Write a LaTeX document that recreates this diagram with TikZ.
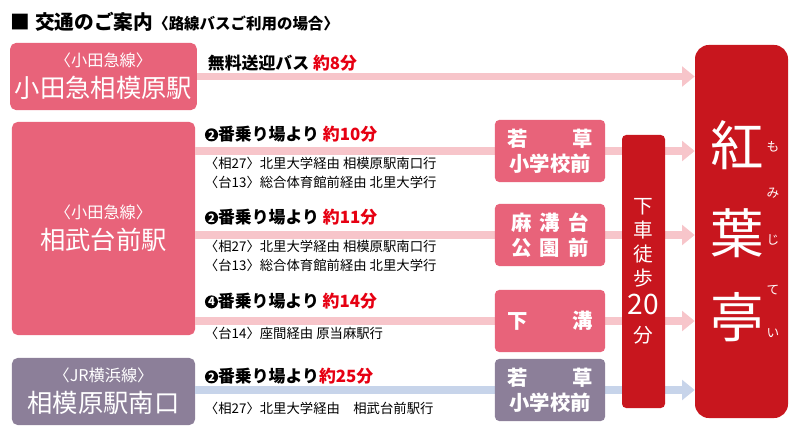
\documentclass[tikz,border=0pt]{standalone}
\usepackage{fontspec}
\setmainfont{Noto Sans CJK JP}
\usetikzlibrary{arrows.meta,positioning}
\definecolor{stpink}{HTML}{E8637A}
\definecolor{stgray}{HTML}{8C7F99}
\definecolor{momired}{HTML}{C8161E}
\definecolor{arrpink}{HTML}{F7C5CA}
\definecolor{arrblue}{HTML}{C7D4EA}
\definecolor{txtred}{HTML}{E60012}
\newcommand{\noc}[1]{\tikz[baseline=-0.6ex]\node[circle,fill=black,inner sep=0.6pt,text=white,font=\bfseries\fontsize{8}{8}\selectfont]{#1};}

\begin{document}
\begin{tikzpicture}[x=0.025cm,y=-0.025cm,
    station/.style={fill=stpink,rounded corners=4pt,text=white,align=center,
                    minimum width=4.575cm,minimum height=1.675cm,font=\fontsize{18}{22}\selectfont},
    stop/.style={fill=stpink,rounded corners=3pt,text=white,align=center,
                 minimum width=2.75cm,minimum height=1.55cm,font=\bfseries\fontsize{14.5}{18}\selectfont},
    route/.style={line width=5pt,arrpink,-{Triangle[length=9pt,width=14pt]}},
    plain/.style={line width=5pt,arrpink},
    head/.style={anchor=west,font=\bfseries\fontsize{12}{14}\selectfont},
    sub/.style={anchor=west,align=left,font=\fontsize{9.5}{13}\selectfont}]
\useasboundingbox (0,0) rectangle (800,446);

% title
\node[anchor=west,font=\bfseries\fontsize{14}{16}\selectfont] (title) at (6,22)
  {■ 交通のご案内{\fontsize{11}{12}\selectfont〈路線バスご利用の場合〉}};

% stations
\node[station] (odakyu) at (103.5,76.5)
  {{\fontsize{11.5}{14}\selectfont〈小田急線〉}\\小田急相模原駅};
\node[station,minimum height=5.325cm] (sobudai) at (103.5,228.5)
  {{\fontsize{11.5}{14}\selectfont〈小田急線〉}\\相武台前駅};
\node[station,fill=stgray] (sagami) at (103.5,391.5)
  {{\fontsize{11.5}{14}\selectfont〈JR横浜線〉}\\相模原駅南口};

% destination and walk
\node[fill=momired,rounded corners=10pt,minimum width=2.325cm,minimum height=9.325cm] (momiji) at (741.5,231.5) {};
\foreach \ch/\y in {紅/145,葉/233,亭/317}
  \node[text=white,font=\fontsize{38}{40}\selectfont] at (737,\y) {\ch};
\foreach \ch/\y in {も/147,み/193,じ/240,て/290,い/333}
  \node[text=white,font=\fontsize{9}{10}\selectfont] at (773,\y) {\ch};

% bus stops
\coordinate (a1) at (550,151);
\coordinate (a2) at (550,235);
\coordinate (a3) at (550,321);
\coordinate (a4) at (550,390);

% connectors
\draw[route] (odakyu.east) -- (odakyu.east -| momiji.west);
\foreach \s in {a1,a2,a3}{
  \draw[plain] (sobudai.east |- \s) -- (\s);
  \draw[route] (\s) -- (\s -| momiji.west);
}
\draw[plain,arrblue] (sagami.east |- a4) -- (a4);
\draw[route,arrblue] (a4) -- (a4 -| momiji.west);

\node[stop] (s1) at (a1) {若\hspace{2.2em}草\\小学校前};
\node[stop] (s2) at (a2) {麻\hspace{0.4em}溝\hspace{0.4em}台\\公\hspace{0.4em}園\hspace{0.4em}前};
\node[stop] (s3) at (a3) {下\hspace{2.2em}溝};
\node[stop,fill=stgray] (s4) at (a4) {若\hspace{2.2em}草\\小学校前};

\node[fill=momired,rounded corners=3pt,minimum width=1.075cm,minimum height=6.825cm] (walk) at (643.5,271.5) {};
\node[text=white,align=center,font=\fontsize{14}{17}\selectfont] (walktext) at (walk)
  {下\\車\\徒\\歩\\[4pt]{\fontsize{20}{21}\selectfont 20}\\[3pt]分};

% texts
\node[head] (t0) at (203,63) {無料送迎バス \textcolor{txtred}{約8分}};
\node[head] (t1) at (200,134) {\noc{2}番乗り場より \textcolor{txtred}{約10分}};
\node[sub] (u1) at (200,173) {〈相27〉北里大学経由 相模原駅南口行\\〈台13〉総合体育館前経由 北里大学行};
\node[head] (t2) at (200,217) {\noc{2}番乗り場より \textcolor{txtred}{約11分}};
\node[sub] (u2) at (200,256) {〈相27〉北里大学経由 相模原駅南口行\\〈台13〉総合体育館前経由 北里大学行};
\node[head] (t3) at (200,301) {\noc{4}番乗り場より \textcolor{txtred}{約14分}};
\node[sub] (u3) at (200,333) {〈台14〉座間経由 原当麻駅行};
\node[head] (t4) at (200,376) {\noc{2}番乗り場より\textcolor{txtred}{約25分}};
\node[sub] (u4) at (200,408) {〈相27〉北里大学経由\quad 相武台前駅行};
\end{tikzpicture}
\end{document}
